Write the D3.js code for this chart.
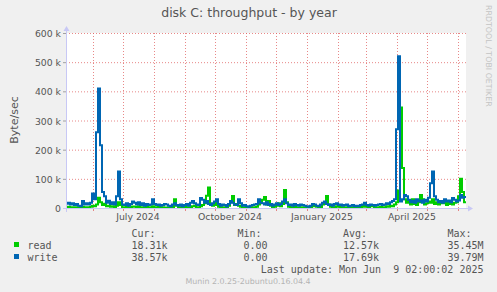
<!DOCTYPE html>
<html>
<head>
<meta charset="utf-8">
<script src="https://cdn.jsdelivr.net/npm/d3@7/dist/d3.min.js"></script>
<style>
    body { margin: 0; background: #f0f0f0; }
    svg { display: block; }
    text { font-family: "DejaVu Sans", sans-serif; fill: #555; }
    .mono { font-family: "DejaVu Sans Mono", monospace; font-size: 10px; white-space: pre; }
</style>
</head>
<body>
<svg width="497" height="292"></svg>
<script>
// values in k byte/sec, one sample every 2 days, oldest first
const readK = [
    3, 4, 2, 3, 2, 3, 2, 1, 4, 2, 3, 2, 4, 8, 6, 12, 35, 20, 10, 15,
    6, 8, 4, 6, 3, 8, 20, 10, 3, 2, 4, 2, 3, 5, 4, 2, 6, 2, 3, 2,
    4, 2, 3, 6, 3, 2, 4, 2, 3, 2, 1, 2, 3, 2, 30, 8, 2, 3, 2, 4,
    2, 3, 2, 6, 8, 3, 2, 6, 10, 16, 42, 70, 12, 8, 18, 10, 4, 2, 3, 2,
    1, 8, 20, 41, 10, 14, 8, 4, 2, 3, 2, 1, 2, 3, 2, 4, 12, 20, 28, 38,
    12, 24, 8, 3, 4, 8, 16, 6, 14, 62, 20, 4, 3, 2, 4, 2, 1, 3, 2, 2,
    1, 1, 3, 6, 8, 4, 2, 3, 12, 20, 41, 12, 4, 3, 2, 6, 4, 3, 2, 3,
    2, 1, 2, 3, 2, 1, 2, 3, 4, 8, 4, 3, 10, 6, 3, 2, 3, 4, 2, 3,
    6, 4, 8, 6, 12, 20, 60, 345, 137, 30, 18, 24, 12, 30, 14, 10, 20, 45, 30, 12,
    16, 22, 18, 30, 14, 20, 12, 24, 16, 18, 10, 20, 14, 12, 18, 20, 40, 100, 55, 20
];
const writeK = [
    15, 18, 12, 16, 10, 14, 8, 6, 24, 12, 16, 12, 18, 50, 30, 260, 410, 215, 55, 40,
    18, 25, 14, 20, 12, 40, 125, 30, 12, 10, 16, 8, 14, 22, 18, 12, 20, 10, 16, 8,
    14, 10, 12, 30, 14, 10, 12, 8, 10, 14, 12, 8, 6, 12, 16, 10, 8, 12, 6, 10,
    14, 8, 18, 24, 16, 12, 10, 34, 28, 18, 24, 14, 10, 16, 22, 30, 14, 8, 12, 10,
    6, 14, 24, 18, 12, 10, 30, 16, 8, 10, 6, 4, 8, 10, 12, 14, 30, 18, 16, 12,
    20, 10, 14, 8, 12, 16, 10, 14, 22, 30, 16, 10, 12, 8, 14, 10, 8, 12, 10, 8,
    6, 4, 8, 14, 12, 8, 6, 12, 18, 22, 14, 10, 12, 8, 14, 16, 10, 12, 8, 10,
    12, 6, 8, 10, 6, 8, 6, 10, 12, 18, 10, 8, 12, 10, 8, 10, 12, 14, 10, 12,
    16, 14, 20, 24, 30, 270, 520, 22, 30, 45, 40, 28, 20, 25, 18, 30, 22, 26, 18, 28,
    22, 35, 85, 125, 40, 28, 20, 24, 18, 30, 22, 26, 20, 34, 28, 22, 26, 45, 35, 38
];
const stepDays = 2;

const yTicks = [0, 100, 200, 300, 400, 500, 600];
const xLabels = ["July 2024", "October 2024", "January 2025", "April 2025"];
const xLabelMonths = [[2024, 6], [2024, 9], [2025, 0], [2025, 3]];

const seriesNames = ["read", "write"];
const seriesColors = ["#00cc00", "#0066b3"];
const curVals = ["18.31k", "38.57k"];
const minVals = ["0.00", "0.00"];
const avgVals = ["12.57k", "17.69k"];
const maxVals = ["35.45M", "39.79M"];

const endTime = new Date(Date.UTC(2025, 5, 9, 2, 0, 2));
const startTime = d3.utcDay.offset(endTime, -400);

const plotLeft = 66, plotRight = 466, plotTop = 33, plotBottom = 208;
const svg = d3.select("svg");

var x = d3.scaleUtc().domain([startTime, endTime]).range([plotLeft, plotRight]);
var y = d3.scaleLinear().domain([0, 600]).range([plotBottom, plotTop]);

// plot background
svg.append("rect")
    .attr("x", plotLeft).attr("y", plotTop)
    .attr("width", plotRight - plotLeft).attr("height", plotBottom - plotTop)
    .attr("fill", "#ffffff");

// horizontal grid + ticks
svg.selectAll(".hgrid")
    .data(yTicks.filter(d => d > 0))
    .enter()
    .append("line")
    .attr("x1", plotLeft).attr("x2", plotRight)
    .attr("y1", d => y(d) + 0.5).attr("y2", d => y(d) + 0.5)
    .attr("stroke", "#e06060")
    .attr("stroke-opacity", 0.75)
    .attr("stroke-dasharray", "1,2");

svg.selectAll(".ytick")
    .data(yTicks)
    .enter()
    .append("line")
    .attr("x1", plotLeft - 3).attr("x2", plotLeft)
    .attr("y1", d => y(d) + 0.5).attr("y2", d => y(d) + 0.5)
    .attr("stroke", "#a0a0a0");

svg.selectAll(".ylab")
    .data(yTicks)
    .enter()
    .append("text")
    .attr("x", 61)
    .attr("y", d => y(d) + 4)
    .attr("text-anchor", "end")
    .style("font-size", "9.3px")
    .text(d => d == 0 ? "0" : d + " k");

// vertical month grid
var months = d3.utcMonth.range(d3.utcMonth.ceil(startTime), endTime);
svg.selectAll(".vgrid")
    .data(months)
    .enter()
    .append("line")
    .attr("x1", d => Math.round(x(d)) + 0.5).attr("x2", d => Math.round(x(d)) + 0.5)
    .attr("y1", plotTop).attr("y2", plotBottom)
    .attr("stroke", "#e06060")
    .attr("stroke-opacity", 0.75)
    .attr("stroke-dasharray", "1,2");

svg.selectAll(".xtick")
    .data(months)
    .enter()
    .append("line")
    .attr("x1", d => Math.round(x(d)) + 0.5).attr("x2", d => Math.round(x(d)) + 0.5)
    .attr("y1", plotBottom).attr("y2", plotBottom + 3)
    .attr("stroke", "#e06060")
    .attr("stroke-opacity", 0.75);

svg.selectAll(".xlab")
    .data(xLabels)
    .enter()
    .append("text")
    .attr("x", (d, i) => x(d3.utcDay.offset(new Date(Date.UTC(xLabelMonths[i][0], xLabelMonths[i][1], 1)), 15)))
    .attr("y", 220)
    .attr("text-anchor", "middle")
    .style("font-size", "9.3px")
    .text(d => d);

// series lines
var line = d3.line()
    .x((d, i) => x(d3.utcDay.offset(startTime, i * stepDays)))
    .y(d => y(d))
    .curve(d3.curveStepAfter);

[readK, writeK].forEach((vals, k) => {
    var pts = vals.concat([vals[vals.length - 1]]);
    svg.append("path")
        .attr("d", line(pts))
        .attr("fill", "none")
        .attr("stroke", seriesColors[k])
        .attr("stroke-width", 2);
});

// axes
svg.append("line")
    .attr("x1", plotLeft - 3).attr("x2", plotRight + 3)
    .attr("y1", plotBottom + 0.5).attr("y2", plotBottom + 0.5)
    .attr("stroke", "#c8c8f5");
svg.append("path")
    .attr("d", `M${plotRight + 2},${plotBottom - 2.5}L${plotRight + 7},${plotBottom + 0.5}L${plotRight + 2},${plotBottom + 3.5}Z`)
    .attr("fill", "#c8c8f5");
svg.append("line")
    .attr("x1", plotLeft + 0.5).attr("x2", plotLeft + 0.5)
    .attr("y1", plotBottom + 4).attr("y2", plotTop - 3)
    .attr("stroke", "#c8c8f5");
svg.append("path")
    .attr("d", `M${plotLeft - 2.5},${plotTop - 2}L${plotLeft + 0.5},${plotTop - 7}L${plotLeft + 3.5},${plotTop - 2}Z`)
    .attr("fill", "#c8c8f5");

// title, unit label, watermark
svg.append("text")
    .attr("x", 249).attr("y", 17)
    .attr("text-anchor", "middle")
    .style("font-size", "12.5px")
    .text("disk C: throughput - by year");

svg.append("text")
    .attr("transform", "translate(18,120) rotate(-90)")
    .attr("text-anchor", "middle")
    .style("font-size", "11px")
    .text("Byte/sec");

svg.append("text")
    .attr("transform", "translate(485.5,5) rotate(90)")
    .style("font-size", "7.9px")
    .style("fill", "#c4c4c4")
    .text("RRDTOOL / TOBI OETIKER");

// legend
var cols = [["Cur:", 131.5, curVals, 131.5], ["Min:", 237.5, minVals, 243.5],
            ["Avg:", 343, avgVals, 343], ["Max:", 447.5, maxVals, 447.5]];

cols.forEach(c => {
    svg.append("text").attr("class", "mono").attr("x", c[1]).attr("y", 237).text(c[0]);
    c[2].forEach((v, i) => {
        svg.append("text").attr("class", "mono").attr("x", c[3]).attr("y", 249 + i * 12).text(v);
    });
});

var rows = svg.selectAll(".leg")
    .data(seriesNames)
    .enter()
    .append("g");
rows.append("rect")
    .attr("x", 14).attr("y", (d, i) => 242 + i * 12)
    .attr("width", 5).attr("height", 5)
    .attr("fill", (d, i) => seriesColors[i]);
rows.append("text")
    .attr("class", "mono")
    .attr("x", 27.5).attr("y", (d, i) => 249 + i * 12)
    .text(d => d);

svg.append("text")
    .attr("class", "mono")
    .attr("x", 483.5).attr("y", 273)
    .attr("text-anchor", "end")
    .text("Last update: Mon Jun  9 02:00:02 2025");

svg.append("text")
    .attr("x", 248).attr("y", 284)
    .attr("text-anchor", "middle")
    .style("font-size", "7.9px")
    .style("fill", "#b4b4b4")
    .text("Munin 2.0.25-2ubuntu0.16.04.4");
</script>
</body>
</html>
